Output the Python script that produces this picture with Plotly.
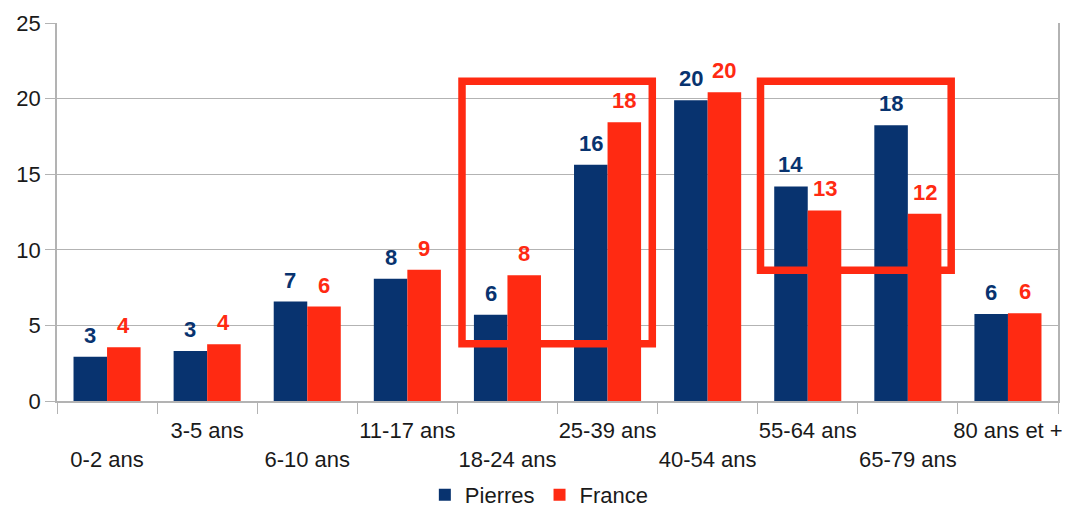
import plotly.graph_objects as go

# Age groups and share of population (%) for Pierres vs France
categories = ["0-2 ans", "3-5 ans", "6-10 ans", "11-17 ans", "18-24 ans",
              "25-39 ans", "40-54 ans", "55-64 ans", "65-79 ans", "80 ans et +"]
pierres = [2.93, 3.31, 6.58, 8.08, 5.70, 15.63, 19.89, 14.19, 18.23, 5.76]
france = [3.55, 3.75, 6.25, 8.68, 8.32, 18.43, 20.42, 12.60, 12.38, 5.81]
y_ticks = [0, 5, 10, 15, 20, 25]

NAVY = "#08336F"
RED = "#FF2A12"
GRID = "#b3b3b3"
FONT = "Liberation Sans, Arial, sans-serif"

W, H = 1068, 513
M = dict(l=57, r=10, t=23, b=112)
BARGAP = 0.33

# staggered category labels: every other one drops to a second row
tick_text = [("<br>" + c) if i % 2 == 0 else c for i, c in enumerate(categories)]

series = [("Pierres", pierres, NAVY), ("France", france, RED)]

fig = go.Figure()
for name, vals, col in series:
    fig.add_trace(go.Bar(
        x=categories, y=vals, name=name,
        marker=dict(color=col, line=dict(width=0)),
        cliponaxis=False,
    ))

# value labels above each bar, offset to the bar's slot within its group
cat_px = (W - M["l"] - M["r"]) / len(categories)
bar_px = cat_px * (1 - BARGAP) / len(series)
for k, (name, vals, col) in enumerate(series):
    shift = (k - (len(series) - 1) / 2) * bar_px
    for c, v in zip(categories, vals):
        fig.add_annotation(
            x=c, y=v, xref="x", yref="y", text=f"{v:.0f}", showarrow=False,
            xanchor="center", yanchor="bottom", xshift=shift, yshift=7,
            font=dict(color=col, size=22, family=FONT, weight="bold"),
        )

# highlight frames around the age groups of interest
frame = dict(type="rect", xref="x", yref="y", line=dict(color=RED, width=7.5),
             fillcolor="rgba(0,0,0,0)", layer="above")
fig.add_shape(**frame, x0=3.546, x1=5.447, y0=3.79, y1=21.15)
fig.add_shape(**frame, x0=6.528, x1=8.433, y0=8.64, y1=21.15)

fig.update_layout(
    width=W, height=H,
    margin=dict(**M, autoexpand=False),
    paper_bgcolor="white", plot_bgcolor="white",
    barmode="group", bargap=BARGAP, bargroupgap=0,
    font=dict(family=FONT, color="#1a1a1a", size=22),
    showlegend=True,
    legend=dict(orientation="h", xref="container", yref="container",
                x=0.505, xanchor="center", y=0.035, yanchor="middle",
                font=dict(size=22, family=FONT, color="#1a1a1a"), itemwidth=30,
                traceorder="normal"),
    xaxis=dict(
        type="category", tickmode="array", tickvals=categories, ticktext=tick_text,
        tickangle=0, automargin=False, ticklabelstandoff=9,
        tickson="boundaries", ticks="outside", ticklen=11, tickcolor=GRID,
        showline=True, linecolor=GRID, linewidth=1.5, showgrid=False,
        tickfont=dict(size=22, family=FONT, color="#1a1a1a"),
    ),
    yaxis=dict(
        range=[0, 25], tickvals=y_ticks, ticks="outside", ticklen=10, tickcolor=GRID,
        automargin=False,
        showgrid=True, gridcolor=GRID, gridwidth=1,
        showline=True, mirror=True, linecolor=GRID, linewidth=1.5,
        zeroline=False,
        tickfont=dict(size=22, family=FONT, color="#1a1a1a"),
    ),
)

fig.write_html("out.html")
